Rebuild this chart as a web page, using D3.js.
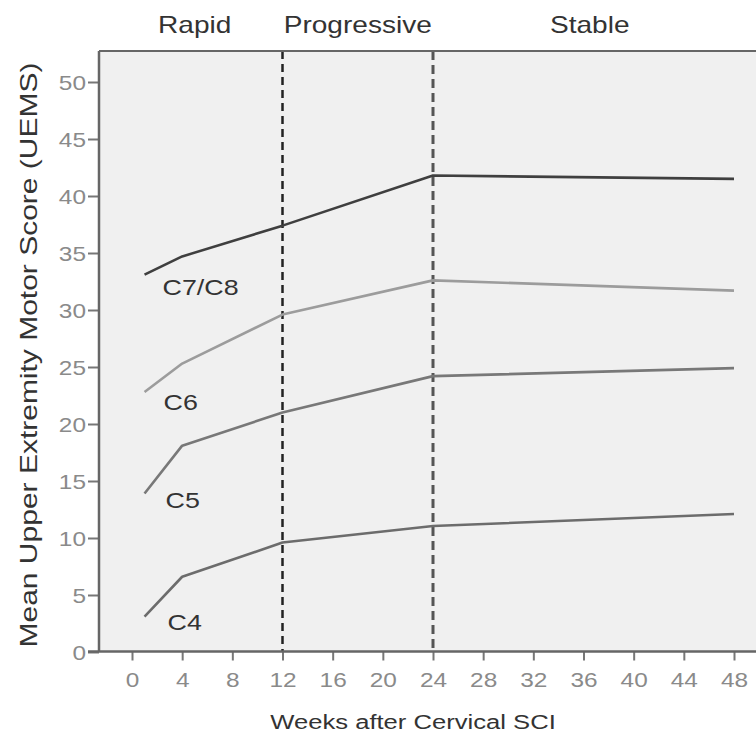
<!DOCTYPE html>
<html>
<head>
<meta charset="utf-8">
<script src="https://cdn.jsdelivr.net/npm/d3@7"></script>
<style>
  body { margin: 0; background: #fff; }
  svg { display: block; font-family: "Liberation Sans", Arial, sans-serif; }
</style>
</head>
<body>
<svg id="chart"></svg>
<script>
// data
const weeks = [1, 4, 12, 24, 48];
const seriesNames = ["C7/C8", "C6", "C5", "C4"];
const c7c8 = [33.1, 34.7, 37.4, 41.8, 41.5];
const c6 = [22.8, 25.3, 29.6, 32.6, 31.7];
const c5 = [13.9, 18.1, 21.0, 24.2, 24.9];
const c4 = [3.1, 6.6, 9.6, 11.05, 12.1];
const phaseNames = ["Rapid", "Progressive", "Stable"];
const phaseCenters = [5, 18, 36.5];
const phaseBreaks = [12, 24];
const xTicks = d3.range(0, 49, 4);
const yTicks = d3.range(0, 51, 5);

const width = 756, height = 738;
const plot = { left: 99, right: 760, top: 51, bottom: 651.5 };
const sx = 1.22; // the source font is wide, stretch glyphs a bit

const series = [
  { name: seriesNames[0], values: c7c8, color: "#3f3f3f", dx: 18, dy: 20 },
  { name: seriesNames[1], values: c6,   color: "#9c9c9c", dx: 19, dy: 18 },
  { name: seriesNames[2], values: c5,   color: "#787878", dx: 21, dy: 14 },
  { name: seriesNames[3], values: c4,   color: "#6c6c6c", dx: 23, dy: 13 }
];

const svg = d3.select("#chart").attr("width", width).attr("height", height);

const x = d3.scaleLinear().domain([0, 48]).range([132, 734]);
const y = d3.scaleLinear().domain([0, 50]).range([652, 82]);

// plot background
svg.append("rect")
  .attr("x", plot.left).attr("y", plot.top)
  .attr("width", plot.right - plot.left).attr("height", plot.bottom - plot.top)
  .attr("fill", "#f0f0f0");

// phase separators
phaseBreaks.forEach((w, i) => {
  svg.append("line")
    .attr("x1", x(w)).attr("x2", x(w))
    .attr("y1", plot.top).attr("y2", plot.bottom)
    .attr("stroke", i === 0 ? "#222" : "#555")
    .attr("stroke-width", i === 0 ? 2.5 : 3)
    .attr("stroke-dasharray", i === 0 ? "8,5" : "9,5");
});

// lines
const line = d3.line()
  .x((d, i) => x(weeks[i]))
  .y(d => y(d));

svg.selectAll(".series")
  .data(series)
  .enter()
  .append("path")
  .attr("class", "series")
  .attr("fill", "none")
  .attr("stroke", d => d.color)
  .attr("stroke-width", 2.6)
  .attr("stroke-linejoin", "round")
  .attr("d", d => line(d.values));

// series labels
svg.selectAll(".slabel")
  .data(series)
  .enter()
  .append("text")
  .attr("class", "slabel")
  .attr("transform", d => `translate(${x(weeks[0]) + d.dx},${y(d.values[0]) + d.dy}) scale(${sx},1)`)
  .attr("font-size", 22)
  .attr("fill", "#333")
  .text(d => d.name);

// axes
const yAxis = svg.append("g")
  .attr("transform", `translate(${plot.left},0)`)
  .call(d3.axisLeft(y).tickValues(yTicks).tickSize(11).tickFormat(d3.format("d")));
yAxis.select(".domain").remove();
yAxis.selectAll(".tick line").attr("stroke", "#777").attr("stroke-width", 2);
yAxis.selectAll(".tick text")
  .attr("x", null).attr("dy", "0.36em")
  .attr("transform", `translate(-13,0) scale(${sx},1)`)
  .attr("font-size", 20)
  .attr("fill", "#8a8a8a");

const xAxis = svg.append("g")
  .attr("transform", `translate(0,${plot.bottom})`)
  .call(d3.axisBottom(x).tickValues(xTicks).tickSize(9).tickPadding(12));
xAxis.select(".domain").remove();
xAxis.selectAll(".tick line").attr("stroke", "#777").attr("stroke-width", 2);
xAxis.selectAll(".tick text")
  .attr("transform", `scale(${sx},1)`)
  .attr("font-size", 20)
  .attr("fill", "#8a8a8a");

// frame lines
svg.append("line")
  .attr("x1", plot.left).attr("x2", plot.left)
  .attr("y1", plot.top).attr("y2", plot.bottom)
  .attr("stroke", "#666").attr("stroke-width", 2.5);
svg.append("line")
  .attr("x1", 88).attr("x2", plot.right)
  .attr("y1", plot.bottom).attr("y2", plot.bottom)
  .attr("stroke", "#666").attr("stroke-width", 2.5);
svg.append("line")
  .attr("x1", plot.left).attr("x2", plot.right)
  .attr("y1", plot.top).attr("y2", plot.top)
  .attr("stroke", "#666").attr("stroke-width", 2);

// phase titles
svg.selectAll(".phase")
  .data(phaseNames)
  .enter()
  .append("text")
  .attr("class", "phase")
  .attr("transform", (d, i) => `translate(${x(phaseCenters[i])},33) scale(${sx},1)`)
  .attr("text-anchor", "middle")
  .attr("font-size", 23)
  .attr("fill", "#333")
  .text(d => d);

// axis titles
svg.append("text")
  .attr("transform", `translate(413,729) scale(${sx},1)`)
  .attr("text-anchor", "middle")
  .attr("font-size", 21)
  .attr("fill", "#333")
  .text("Weeks after Cervical SCI");

svg.append("text")
  .attr("transform", "translate(37,355) rotate(-90)")
  .attr("text-anchor", "middle")
  .attr("font-size", 24)
  .attr("textLength", 585)
  .attr("lengthAdjust", "spacingAndGlyphs")
  .attr("fill", "#333")
  .text("Mean Upper Extremity Motor Score (UEMS)");
</script>
</body>
</html>
